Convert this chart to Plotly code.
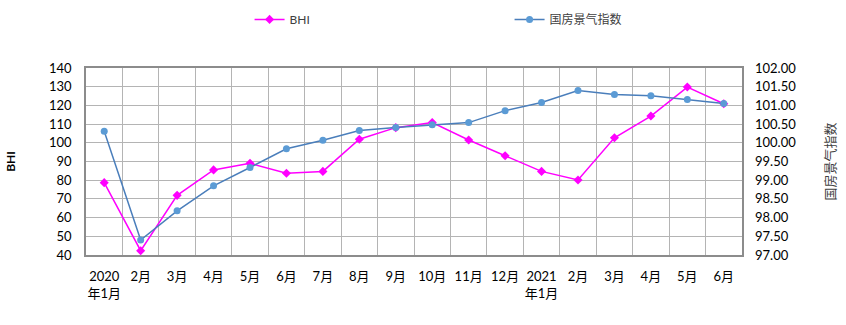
import plotly.graph_objects as go

months = ["2020<br>年1月", "2月", "3月", "4月", "5月", "6月", "7月", "8月", "9月", "10月",
          "11月", "12月", "2021<br>年1月", "2月", "3月", "4月", "5月", "6月"]
bhi = [78.7, 42.3, 71.9, 85.5, 89.0, 83.7, 84.7, 101.9, 108.1, 110.8,
       101.5, 93.1, 84.7, 80.1, 102.7, 114.3, 129.8, 120.9]
gf = [100.31, 97.40, 98.18, 98.85, 99.34, 99.84, 100.07, 100.33, 100.41, 100.48,
      100.54, 100.86, 101.08, 101.40, 101.29, 101.26, 101.16, 101.05]
left_ticks = list(range(40, 141, 10))
right_ticks = [97 + 0.5 * i for i in range(11)]

xs = list(range(len(months)))
FONT = "Lato, 'Noto Sans CJK SC', sans-serif"

fig = go.Figure()
fig.add_trace(go.Scatter(x=xs, y=bhi, name="BHI", mode="lines+markers",
                         line=dict(color="#FF00FF", width=1.5),
                         marker=dict(symbol="diamond", size=7, color="#FF00FF"),
                         yaxis="y"))
fig.add_trace(go.Scatter(x=xs, y=gf, name="国房景气指数", mode="lines+markers",
                         line=dict(color="#4A7EBB", width=1.5),
                         marker=dict(symbol="circle", size=7, color="#5B9BD5"),
                         yaxis="y2"))

fig.update_layout(
    width=846, height=325,
    margin=dict(l=86, r=104, t=68, b=70),
    paper_bgcolor="white", plot_bgcolor="white",
    font=dict(family=FONT, size=13, color="#000000"),
    showlegend=True,
    legend=dict(orientation="h", xref="container", yref="container",
                x=0.295, y=0.985, xanchor="left", yanchor="top",
                entrywidth=215, entrywidthmode="pixels",
                font=dict(size=12, color="#404040")),
    xaxis=dict(range=[-0.5, len(months) - 0.5], tickmode="array", tickvals=xs,
               ticktext=months, showgrid=False, zeroline=False, automargin=False,
               showline=True, linecolor="#8c8c8c", linewidth=1.5, mirror=True,
               ticks="", tickfont=dict(size=13), ticklabelstandoff=9,
               minor=dict(tickmode="array", tickvals=[i + 0.5 for i in xs[:-1]],
                          showgrid=True, gridcolor="#b4b4b4", gridwidth=1, ticks="")),
    yaxis=dict(range=[40, 140], tickmode="array", tickvals=left_ticks,
               showgrid=True, gridcolor="#b4b4b4", gridwidth=1, zeroline=False,
               showline=True, linecolor="#8c8c8c", linewidth=1.5, mirror=True,
               automargin=False,
               ticks="", tickfont=dict(size=13), ticklabelstandoff=10,
               title=dict(text="<b>BHI</b>", font=dict(size=12), standoff=31)),
    yaxis2=dict(range=[97, 102], tickmode="array", tickvals=right_ticks,
                tickformat=".2f", overlaying="y", side="right", automargin=False,
                showgrid=False, zeroline=False, ticks="", tickfont=dict(size=13),
                ticklabelstandoff=12,
                title=dict(text="国房景气指数", font=dict(size=13, color="#404040"), standoff=30)),
)

fig.write_html("out.html")
